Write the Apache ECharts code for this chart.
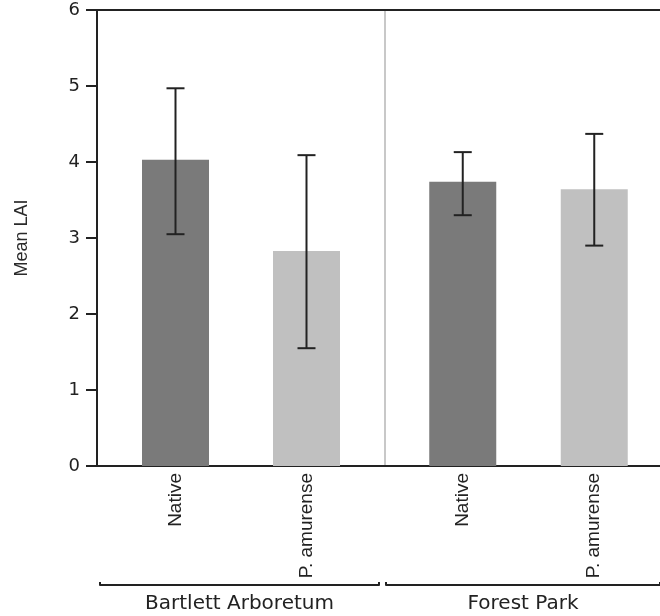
<!DOCTYPE html>
<html>
<head>
<meta charset="utf-8">
<script src="https://cdn.jsdelivr.net/npm/echarts@6/dist/echarts.min.js"></script>
<style>
  html, body { margin: 0; padding: 0; background: #fff; }
  #chart { width: 660px; height: 616px; }
</style>
</head>
<body>
<div id="chart"></div>
<script>
// groups and treatments
const sites = ['Bartlett Arboretum', 'Forest Park'];
const treatments = ['Native', 'P. amurense'];
const yTicks = [0, 1, 2, 3, 4, 5, 6];

// mean LAI with error bar ends
const bartlettMean = [4.03, 2.83];
const bartlettLow = [3.05, 1.55];
const bartlettHigh = [4.97, 4.09];
const forestMean = [3.74, 3.64];
const forestLow = [3.30, 2.90];
const forestHigh = [4.13, 4.37];

const barColors = ['#7a7a7a', '#c0c0c0'];
const ink = '#222';

let myEchart = echarts.init(document.getElementById('chart'));

let barData = (means) => means.map((v, i) => ({ value: v, itemStyle: { color: barColors[i] } }));
let errData = (low, high) => low.map((v, i) => [i, v, high[i]]);

// vertical line with caps
let errorBar = (params, api) => {
  let x = api.value(0);
  let top = api.coord([x, api.value(2)]);
  let bot = api.coord([x, api.value(1)]);
  let half = 9;
  let style = { stroke: ink, lineWidth: 2 };
  return {
    type: 'group',
    children: [
      { type: 'line', shape: { x1: top[0], y1: top[1], x2: bot[0], y2: bot[1] }, style: style },
      { type: 'line', shape: { x1: top[0] - half, y1: top[1], x2: top[0] + half, y2: top[1] }, style: style },
      { type: 'line', shape: { x1: bot[0] - half, y1: bot[1], x2: bot[0] + half, y2: bot[1] }, style: style }
    ]
  };
};

let catAxis = (gridIndex) => ({
  type: 'category',
  gridIndex: gridIndex,
  data: treatments,
  axisLine: { show: false },
  axisTick: { show: false },
  axisLabel: {
    rotate: 90,
    margin: 7,
    fontSize: 19,
    fontFamily: 'Liberation Sans',
    color: ink
  }
});

let bracketAxis = (gridIndex, name) => ({
  type: 'category',
  gridIndex: gridIndex,
  data: [name],
  axisLine: { show: true, lineStyle: { color: ink, width: 2 } },
  axisTick: { show: true, inside: true, length: 3, lineStyle: { color: ink, width: 2 } },
  axisLabel: { margin: 9, fontSize: 20, fontFamily: 'DejaVu Sans', color: ink }
});

let frameX = (position) => ({
  type: 'value',
  gridIndex: 0,
  position: position,
  min: 0,
  max: 1,
  axisLine: { show: true, onZero: false, lineStyle: { color: ink, width: 2 } },
  axisTick: { show: false },
  axisLabel: { show: false },
  splitLine: { show: false }
});

let hiddenY = (gridIndex) => ({ type: 'value', gridIndex: gridIndex, min: 0, max: 6, show: false });

let option = {
  animation: false,
  backgroundColor: '#fff',
  grid: [
    { left: 97, right: 0, top: 10, bottom: 150 },
    { left: 110, width: 262, top: 10, bottom: 150 },
    { left: 397, right: 0, top: 10, bottom: 150 },
    { left: 100, width: 279, top: 10, bottom: 31 },
    { left: 386, right: 0, top: 10, bottom: 31 }
  ],
  xAxis: [
    frameX('bottom'),
    frameX('top'),
    catAxis(1),
    catAxis(2),
    bracketAxis(3, sites[0]),
    bracketAxis(4, sites[1])
  ],
  yAxis: [
    {
      type: 'value',
      gridIndex: 0,
      min: yTicks[0],
      max: yTicks[yTicks.length - 1],
      interval: 1,
      name: 'Mean LAI',
      nameLocation: 'middle',
      nameRotate: 90,
      nameGap: 66,
      nameTextStyle: { fontSize: 18, fontFamily: 'Liberation Sans', color: '#2a2a2a' },
      axisLine: { show: true, lineStyle: { color: ink, width: 2 } },
      axisTick: { show: true, length: 11, lineStyle: { color: ink, width: 2 } },
      axisLabel: { margin: 17, fontSize: 18, fontFamily: 'DejaVu Sans', color: ink },
      splitLine: { show: false }
    },
    hiddenY(1),
    {
      // grey divider between the two sites
      type: 'value',
      gridIndex: 2,
      min: 0,
      max: 6,
      offset: 12,
      axisLine: { show: true, lineStyle: { color: '#c8c8c8', width: 2 } },
      axisTick: { show: false },
      axisLabel: { show: false },
      splitLine: { show: false }
    },
    hiddenY(3),
    hiddenY(4)
  ],
  series: [
    { type: 'bar', xAxisIndex: 2, yAxisIndex: 1, barWidth: 67, data: barData(bartlettMean) },
    { type: 'bar', xAxisIndex: 3, yAxisIndex: 2, barWidth: 67, data: barData(forestMean) },
    {
      type: 'custom', xAxisIndex: 2, yAxisIndex: 1, z: 5,
      renderItem: errorBar, encode: { x: 0, y: [1, 2] },
      data: errData(bartlettLow, bartlettHigh)
    },
    {
      type: 'custom', xAxisIndex: 3, yAxisIndex: 2, z: 5,
      renderItem: errorBar, encode: { x: 0, y: [1, 2] },
      data: errData(forestLow, forestHigh)
    }
  ]
};

myEchart.setOption(option);
</script>
</body>
</html>
